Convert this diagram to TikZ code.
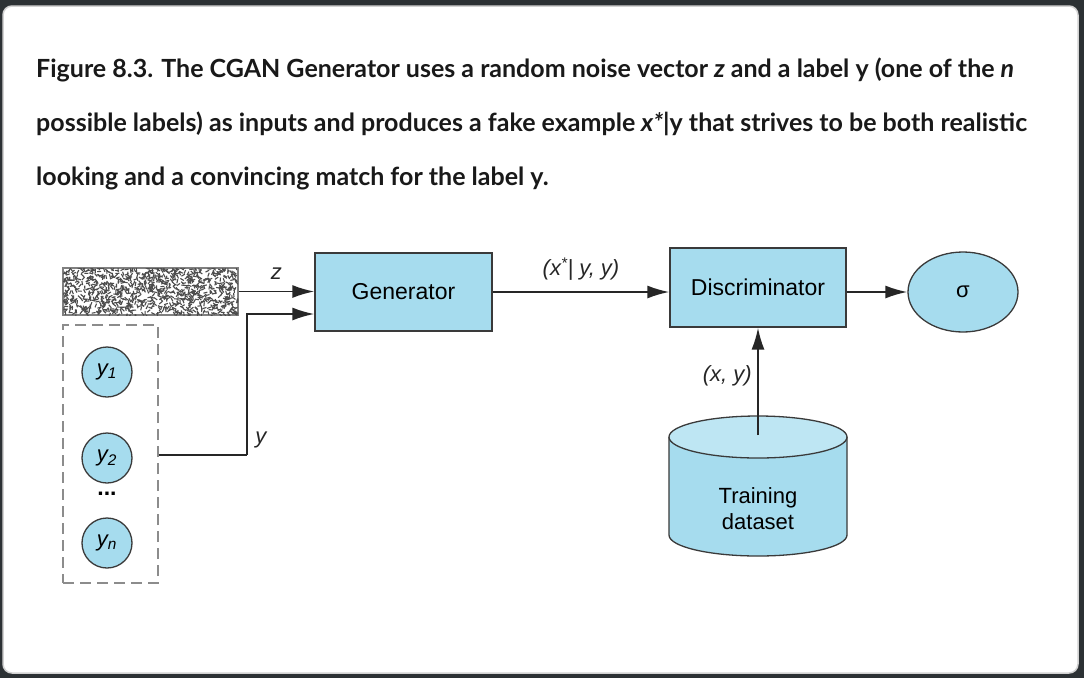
\documentclass[tikz,border=0pt]{standalone}
\usepackage{fontspec}
\setmainfont{Lato}
\newfontfamily\diagfont{Liberation Sans}
\usetikzlibrary{arrows.meta, shapes.geometric, positioning}

\definecolor{pagebg}{HTML}{2C3134}
\definecolor{boxblue}{HTML}{A6DCEE}
\definecolor{toplight}{HTML}{BEE6F3}
\definecolor{edgegray}{HTML}{3A3A3A}

\tikzset{
  blockbox/.style={draw=edgegray, fill=boxblue, line width=1.3pt, font=\diagfont\fontsize{23}{25}\selectfont},
  labelnode/.style={draw=edgegray, fill=boxblue, circle, line width=1.3pt, minimum size=50pt, inner sep=0pt, font=\diagfont\itshape\fontsize{22}{24}\selectfont},
  arr/.style={-{Latex[length=22pt,width=13pt]}, line width=1.9pt, black!85},
  plainline/.style={line width=1.9pt, black!85},
  tag/.style={font=\diagfont\itshape\fontsize{22}{24}\selectfont},
  captionline/.style={anchor=base west, inner sep=0pt, font=\bfseries\fontsize{25}{28}\selectfont, text=black!90}
}

\begin{document}
\begin{tikzpicture}[x=1pt, y=-1pt]
  \useasboundingbox (0,0) rectangle (1084,678);
  \fill[pagebg] (0,0) rectangle (1084,678);
  \filldraw[white, draw=gray!35, line width=1.5pt, rounded corners=9pt] (3,6) rectangle (1078,673);

  % caption
  \node[captionline] (cap1) at (36,77) {Figure 8.3. The CGAN Generator uses a random noise vector \textit{z} and a label y (one of the \textit{n}};
  \node[captionline] (cap2) at (36,131) {possible labels) as inputs and produces a fake example \textit{x*}|y that strives to be both realistic};
  \node[captionline] (cap3) at (36,185) {looking and a convincing match for the label y.};

  % noise vector z
  \node[draw=gray, fill=white, line width=1.2pt, minimum width=175pt, minimum height=47pt, inner sep=0pt] (noise) at (150.5,291.5) {};
  \begin{scope}
    \clip (63,268) rectangle (238,315);
    \pgfmathsetseed{11}
    \foreach \k in {1,...,1000}{
      \pgfmathsetmacro\nx{63+175*rnd}
      \pgfmathsetmacro\ny{268+47*rnd}
      \pgfmathsetmacro\na{360*rnd}
      \draw[black!70, line width=1.1pt] (\nx,\ny) -- ++(\na:4);
    }
  \end{scope}

  % labels y1 ... yn
  \node[draw=gray!90, dash pattern=on 11pt off 6pt, line width=1.4pt, minimum width=95pt, minimum height=258pt] (lab) at (110.5,454) {};
  \node[labelnode] (y1) at (107,372) {y\textsubscript{1}};
  \node[labelnode] (y2) at (107,458) {y\textsubscript{2}};
  \node[font=\diagfont\bfseries\fontsize{23}{25}\selectfont] (dots) at (107,494) {...};
  \node[labelnode] (yn) at (107,543) {y\textsubscript{n}};

  % networks
  \node[blockbox, minimum width=177pt, minimum height=78pt] (gen) at (403.5,292) {Generator};
  \node[blockbox, minimum width=176pt, minimum height=79pt] (disc) at (758,287.5) {Discriminator};
  \node[draw=edgegray, fill=boxblue, ellipse, line width=1.3pt, minimum width=110pt, minimum height=80pt, inner sep=0pt, font=\diagfont\fontsize{22}{24}\selectfont] (sig) at (963,292) {σ};

  % training dataset
  \filldraw[draw=edgegray, fill=boxblue, line width=1.3pt] (669,437) -- (669,535) arc[start angle=180, end angle=360, x radius=89pt, y radius=21pt] -- (847,437);
  \filldraw[draw=edgegray, fill=toplight, line width=1.3pt] (758,437) ellipse[x radius=89pt, y radius=21pt];
  \node[align=center, font=\diagfont\fontsize{22}{26}\selectfont] (train) at (758,509) {Training\\dataset};
  \coordinate (dtop) at (758,435);

  % connectors
  \coordinate (ybend) at (247,455);
  \draw[arr] (noise.east) -- (noise.east -| gen.west) node[tag, midway, above=8pt] (zlab) {z};
  \draw[plainline] (lab.east |- ybend) -- (ybend) node[tag, above right=3pt and 4pt] (ylab) {y};
  \draw[arr] (ybend) |- ([yshift=-22pt]gen.west);
  \draw[arr] (gen.east) -- (gen.east -| disc.west) node[tag, midway, above=7pt] (xlab) {(x\textsuperscript{*}| y, y)};
  \draw[arr] (gen.east -| disc.east) -- (sig.west);
  \draw[arr] (dtop) -- (disc.south) node[tag, pos=0.55, left=2pt] (dlab) {(x, y)};
\end{tikzpicture}
\end{document}
